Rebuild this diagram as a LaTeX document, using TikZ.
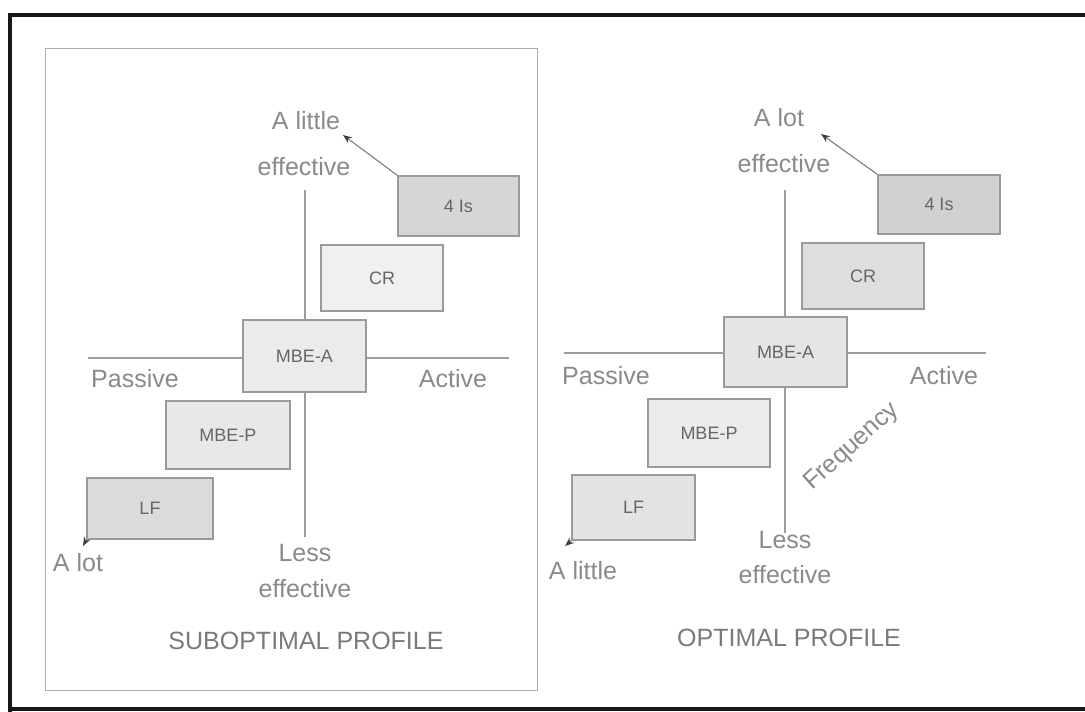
\documentclass[tikz,border=0pt]{standalone}
\usepackage{fontspec}
\setmainfont{Liberation Sans}
\usetikzlibrary{arrows.meta}
\definecolor{framec}{HTML}{161816}
\definecolor{axisc}{HTML}{9C9C9C}
\definecolor{edgec}{HTML}{9A9A9A}
\definecolor{textc}{HTML}{8A8A8A}
\definecolor{titlec}{HTML}{7A7A7A}
\definecolor{labelc}{HTML}{666666}
\tikzset{
  frameline/.style={line width=4pt, draw=framec},
  panel/.style={draw=edgec!80, line width=1pt},
  axis/.style={draw=axisc, line width=1.2pt},
  box/.style={draw=edgec, line width=1.2pt, inner sep=0pt, text=labelc,
    font=\fontsize{18}{20}\selectfont},
  axlabel/.style={inner sep=0pt, text=textc, font=\fontsize{25}{27}\selectfont},
  title/.style={inner sep=0pt, text=titlec, font=\fontsize{25}{27}\selectfont},
  pointer/.style={draw=axisc!80!black, line width=1.1pt,
    -{Stealth[length=9pt,width=7pt,color=black!75]}},
}
\begin{document}
\begin{tikzpicture}[x=1pt,y=-1pt]
\useasboundingbox (0,0) rectangle (1085,712);
\fill[white] (0,0) rectangle (1085,712);

% outer frame
\draw[frameline] (1085,15) -- (10,15) -- (10,712);
\draw[frameline] (10,709) -- (1085,709);

% ---------- suboptimal profile ----------
\draw[panel] (45,48) rectangle (537,690);
\coordinate (lvt) at (305,190);
\coordinate (lvb) at (305,537);
\coordinate (lhl) at (88,358);
\coordinate (lhr) at (509,358);
\draw[axis] (lvt) -- (lvb);
\draw[axis] (lhl) -- (lhr);

\node[box, fill=black!16, minimum width=121pt, minimum height=60pt] (l4) at (458.5,206) {4 Is};
\node[box, fill=black!6, minimum width=122pt, minimum height=66pt] (lcr) at (382,278) {CR};
\node[box, fill=black!8, minimum width=123pt, minimum height=72pt] (lmbea) at (304.5,356) {MBE-A};
\node[box, fill=black!9, minimum width=124pt, minimum height=68pt] (lmbep) at (228,435) {MBE-P};
\node[box, fill=black!14, minimum width=126pt, minimum height=61pt] (llf) at (150,508.5) {LF};

\node[axlabel] (ltop1) at (306,121) {A little};
\node[axlabel] (ltop2) at (304,167) {effective};
\node[axlabel] (lpas) at (135,379) {Passive};
\node[axlabel] (lact) at (453,379) {Active};
\node[axlabel] (llow) at (78,563) {A lot};
\node[axlabel] (lbot1) at (305,553) {Less};
\node[axlabel] (lbot2) at (305,589) {effective};
\node[title] (ltitle) at (306,641) {SUBOPTIMAL PROFILE};

\coordinate (lhi) at (343,135);
\coordinate (llo) at (83,546);
\draw[pointer] (l4.north west) -- (lhi);
\draw[pointer] (llf.south west) -- (llo);

% ---------- optimal profile ----------
\coordinate (rvt) at (785,190);
\coordinate (rvb) at (785,533);
\coordinate (rhl) at (564,353);
\coordinate (rhr) at (986,353);
\draw[axis] (rvt) -- (rvb);
\draw[axis] (rhl) -- (rhr);

\node[box, fill=black!18, minimum width=122pt, minimum height=59pt] (r4) at (939,204.5) {4 Is};
\node[box, fill=black!13, minimum width=122pt, minimum height=66pt] (rcr) at (863,276) {CR};
\node[box, fill=black!10, minimum width=123pt, minimum height=70pt] (rmbea) at (785.5,352) {MBE-A};
\node[box, fill=black!8, minimum width=122pt, minimum height=68pt] (rmbep) at (709,433) {MBE-P};
\node[box, fill=black!11, minimum width=123pt, minimum height=65pt] (rlf) at (633.5,507.5) {LF};

\node[axlabel] (rtop1) at (779,118) {A lot};
\node[axlabel] (rtop2) at (784,164) {effective};
\node[axlabel] (rpas) at (606,376) {Passive};
\node[axlabel] (ract) at (944,376) {Active};
\node[axlabel] (rlow) at (583,571) {A little};
\node[axlabel] (rbot1) at (785,540) {Less};
\node[axlabel] (rbot2) at (785,575) {effective};
\node[axlabel, rotate=42] (rfreq) at (852,447) {Frequency};
\node[title] (rtitle) at (789,638) {OPTIMAL PROFILE};

\coordinate (rhi) at (821,134);
\coordinate (rlo) at (565,546);
\draw[pointer] (r4.north west) -- (rhi);
\draw[pointer] (rlf.south west) -- (rlo);
\end{tikzpicture}
\end{document}
